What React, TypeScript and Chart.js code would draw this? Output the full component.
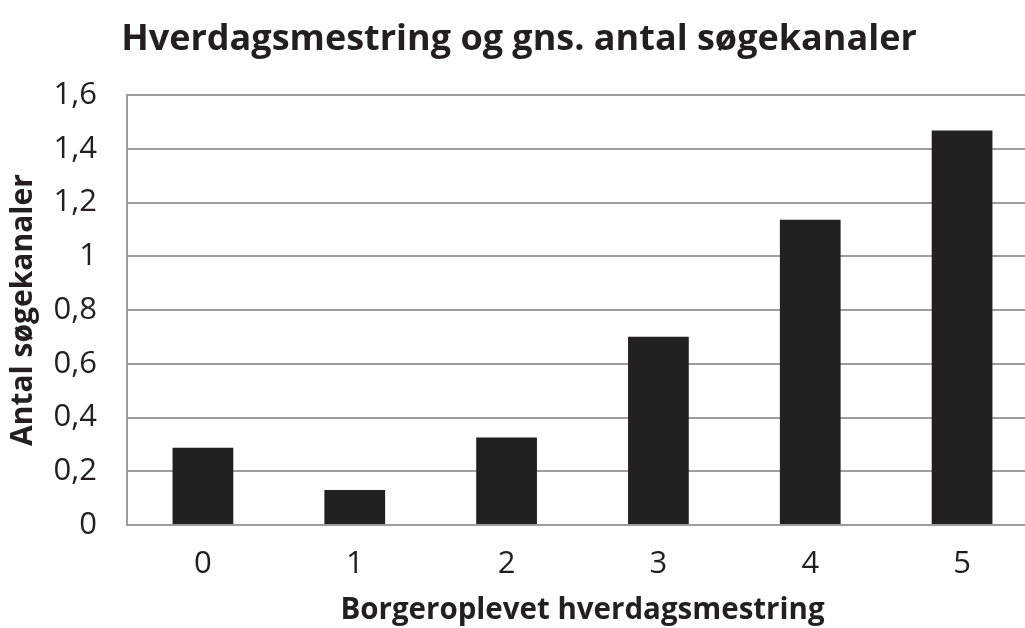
import React, { useEffect, useRef } from "react";
import { Chart, registerables } from "chart.js";

Chart.register(...registerables);

const categories = ["0", "1", "2", "3", "4", "5"];
const values = [0.288, 0.13, 0.326, 0.701, 1.136, 1.469];
const yTickValues = [0, 0.2, 0.4, 0.6, 0.8, 1, 1.2, 1.4, 1.6];
const yTickLabels = ["0", "0,2", "0,4", "0,6", "0,8", "1", "1,2", "1,4", "1,6"];
const titleText = "Hverdagsmestring og gns. antal søgekanaler";
const xTitleText = "Borgeroplevet hverdagsmestring";
const yTitleText = "Antal søgekanaler";

const FONT = "'Open Sans', 'Noto Sans', sans-serif";
const INK = "#231f20";
const GRID = "#9d9d9f";

export default function App() {
  const ref = useRef<HTMLCanvasElement | null>(null);
  useEffect(() => {
    if (!ref.current) return;
    const chart = new Chart(ref.current, {
      type: "bar",
      data: {
        labels: categories,
        datasets: [
          {
            data: values,
            backgroundColor: INK,
            borderWidth: 0,
            barPercentage: 0.4,
            categoryPercentage: 1,
          },
        ],
      },
      options: {
        animation: false,
        responsive: false,
        maintainAspectRatio: false,
        layout: { padding: { left: 0, right: 2, top: 0, bottom: 0 } },
        plugins: {
          legend: { display: false },
          tooltip: { enabled: false },
          title: {
            display: true,
            text: titleText,
            color: INK,
            font: { family: FONT, size: 36, weight: "bold" },
            padding: { top: 18, bottom: 34 },
          },
        },
        scales: {
          x: {
            grid: { display: false, drawTicks: false },
            border: { display: true, color: GRID, width: 2 },
            ticks: {
              color: INK,
              font: { family: FONT, size: 31 },
              padding: 21,
            },
            title: {
              display: true,
              text: xTitleText,
              color: INK,
              font: { family: FONT, size: 29.5, weight: "bold" },
              padding: { top: 0, bottom: 0 },
            },
            afterFit: (scale: any) => {
              scale.height = 103;
            },
          },
          y: {
            min: 0,
            max: 1.6,
            afterBuildTicks: (scale: any) => {
              scale.ticks = yTickValues.map((v) => ({ value: v }));
            },
            grid: { color: GRID, lineWidth: 2, drawTicks: false },
            border: { display: true, color: GRID, width: 2 },
            ticks: {
              color: INK,
              font: { family: FONT, size: 31 },
              padding: 30,
              callback: (_v: any, i: number) => yTickLabels[i],
            },
            title: {
              display: true,
              text: yTitleText,
              color: INK,
              font: { family: FONT, size: 30, weight: "bold" },
              padding: { top: 5, bottom: 0 },
            },
            afterFit: (scale: any) => {
              scale.width = 127;
            },
          },
        },
      },
    });
    return () => chart.destroy();
  }, []);
  return (
    <div
      style={{
        position: "absolute",
        left: 0,
        top: 0,
        width: 1025,
        height: 628,
        overflow: "hidden",
        background: "#fff",
      }}
    >
      <canvas ref={ref} width={1040} height={628} style={{ display: "block" }} />
    </div>
  );
}
